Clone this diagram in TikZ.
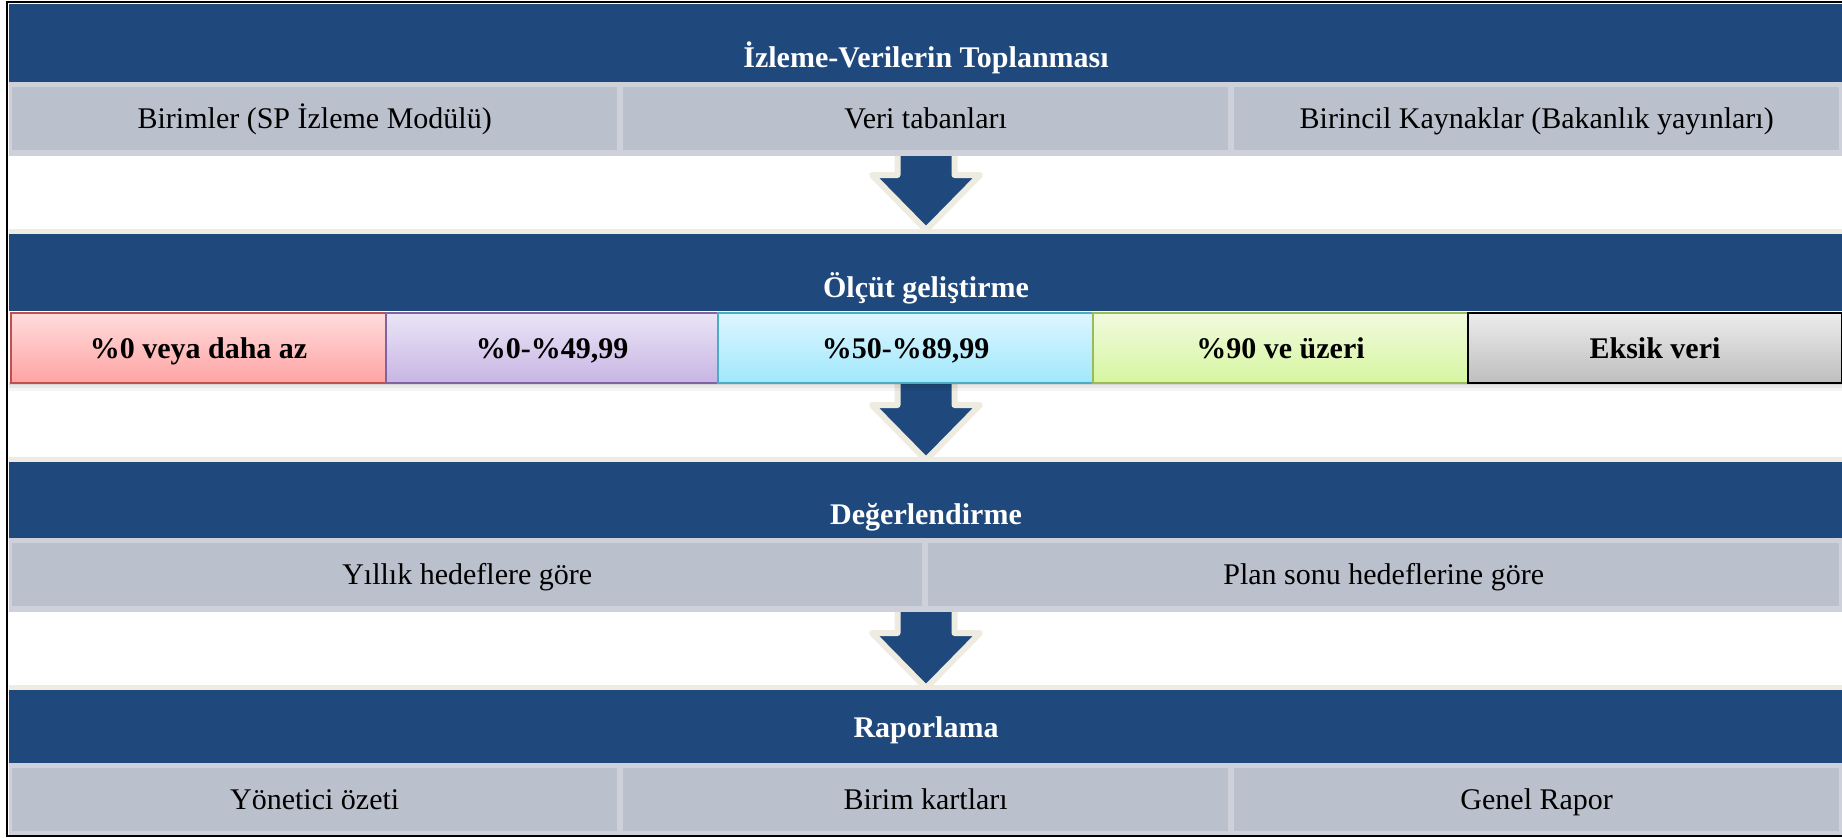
\documentclass[tikz,border=0pt]{standalone}
\usepackage{fontspec}
\setmainfont{Liberation Serif}
\usetikzlibrary{calc}
\definecolor{navy}{RGB}{31,73,125}
\definecolor{cream}{RGB}{238,236,225}
\definecolor{grayOut}{RGB}{206,209,217}
\definecolor{grayIn}{RGB}{186,192,204}
\definecolor{redB}{RGB}{192,80,77}
\definecolor{redT}{RGB}{255,220,220}
\definecolor{redL}{RGB}{255,163,163}
\definecolor{purB}{RGB}{128,100,162}
\definecolor{purT}{RGB}{235,229,246}
\definecolor{purL}{RGB}{199,181,228}
\definecolor{cyaB}{RGB}{75,172,198}
\definecolor{cyaT}{RGB}{221,246,255}
\definecolor{cyaL}{RGB}{160,232,252}
\definecolor{greB}{RGB}{155,187,89}
\definecolor{greT}{RGB}{241,250,222}
\definecolor{greL}{RGB}{214,246,160}
\definecolor{gryT}{RGB}{236,236,236}
\definecolor{gryL}{RGB}{190,190,190}
\newcommand\flowarrow[2]{%
  \path[arrowst] let \p1=(#1), \p2=(#2) in
    (\x1-28.5pt,\y1) -- (\x1-28.5pt,\y2+55pt) -- (\x1-54pt,\y2+55pt) -- (\x2,\y2)
    -- (\x1+54pt,\y2+55pt) -- (\x1+28.5pt,\y2+55pt) -- (\x1+28.5pt,\y1);
}
\begin{document}
\begin{tikzpicture}[x=1pt,y=-1pt,
  arrowst/.style={fill=navy,draw=cream,line width=6pt,line join=round},
  band/.style={fill=navy,draw=none,inner sep=0pt,anchor=north west,minimum width=1833pt},
  bandtitle/.style={text=white,inner sep=0pt,text height=20pt,text depth=0pt,
    font=\bfseries\fontsize{30}{36}\selectfont},
  cell/.style={fill=grayIn,draw=none,inner sep=0pt,anchor=north west,
    text height=20pt,text depth=0pt,font=\fontsize{30}{36}\selectfont},
  cbox/.style={line width=2pt,inner sep=0pt,anchor=north west,minimum height=70pt,
    text height=20pt,text depth=0pt,font=\bfseries\fontsize{30}{36}\selectfont}]
\useasboundingbox (0,0) rectangle (1842,838);
\fill[white] (0,0) rectangle (1842,838);
% arrow end points
\coordinate (a1top) at (926,150);
\coordinate (a1tip) at (926,230);
\coordinate (a2top) at (926,380);
\coordinate (a2tip) at (926,460);
\coordinate (a3top) at (926,610);
\coordinate (a3tip) at (926,688);
\flowarrow{a1top}{a1tip}
\flowarrow{a2top}{a2tip}
\flowarrow{a3top}{a3tip}
% band 1
\node[band,minimum height=78pt] (b1) at (9,4) {};
\node[bandtitle] (t1) at (926,57) {İzleme-Verilerin Toplanması};
\fill[grayOut] (9,82) rectangle (1842,156);
\node[cell,minimum width=605pt,minimum height=63pt] (r1c1) at (12,87) {Birimler (SP İzleme Modülü)};
\node[cell,minimum width=605pt,minimum height=63pt] (r1c2) at (623,87) {Veri tabanları};
\node[cell,minimum width=605pt,minimum height=63pt] (r1c3) at (1234,87) {Birincil Kaynaklar (Bakanlık yayınları)};
% band 2
\fill[cream] (9,229) rectangle (1842,234);
\node[band,minimum height=77pt] (b2) at (9,234) {};
\node[bandtitle] (t2) at (926,287) {Ölçüt geliştirme};
% shadow under coloured boxes
\fill[black,opacity=0.16] (9,382) rectangle (1842,385);
\fill[black,opacity=0.09] (9,385) rectangle (1842,388);
\fill[black,opacity=0.04] (9,388) rectangle (1842,391);
\node[cbox,draw=redB,top color=redT,bottom color=redL,minimum width=375pt] (k1) at (10,312) {\%0 veya daha az};
\node[cbox,draw=purB,top color=purT,bottom color=purL,minimum width=332pt] (k2) at (385,312) {\%0-\%49,99};
\node[cbox,draw=cyaB,top color=cyaT,bottom color=cyaL,minimum width=375pt] (k3) at (717,312) {\%50-\%89,99};
\node[cbox,draw=greB,top color=greT,bottom color=greL,minimum width=375pt] (k4) at (1092,312) {\%90 ve üzeri};
\node[cbox,draw=black,top color=gryT,bottom color=gryL,minimum width=374pt] (k5) at (1467,312) {Eksik veri};
% band 3
\fill[cream] (9,457) rectangle (1842,462);
\node[band,minimum height=76pt] (b3) at (9,462) {};
\node[bandtitle] (t3) at (926,514) {Değerlendirme};
\fill[grayOut] (9,538) rectangle (1842,612);
\node[cell,minimum width=910pt,minimum height=63pt] (r3c1) at (12,543) {Yıllık hedeflere göre};
\node[cell,minimum width=911pt,minimum height=63pt] (r3c2) at (928,543) {Plan sonu hedeflerine göre};
% band 4
\fill[cream] (9,685) rectangle (1842,690);
\node[band,minimum height=73pt] (b4) at (9,690) {};
\node[bandtitle] (t4) at (926,727) {Raporlama};
\fill[grayOut] (9,763) rectangle (1842,835);
\node[cell,minimum width=605pt,minimum height=63pt] (r4c1) at (12,768) {Yönetici özeti};
\node[cell,minimum width=605pt,minimum height=63pt] (r4c2) at (623,768) {Birim kartları};
\node[cell,minimum width=605pt,minimum height=63pt] (r4c3) at (1234,768) {Genel Rapor};
% frame
\draw[black,line width=2pt] (1842,2) -- (7,2) -- (7,836) -- (1842,836);
\end{tikzpicture}
\end{document}
